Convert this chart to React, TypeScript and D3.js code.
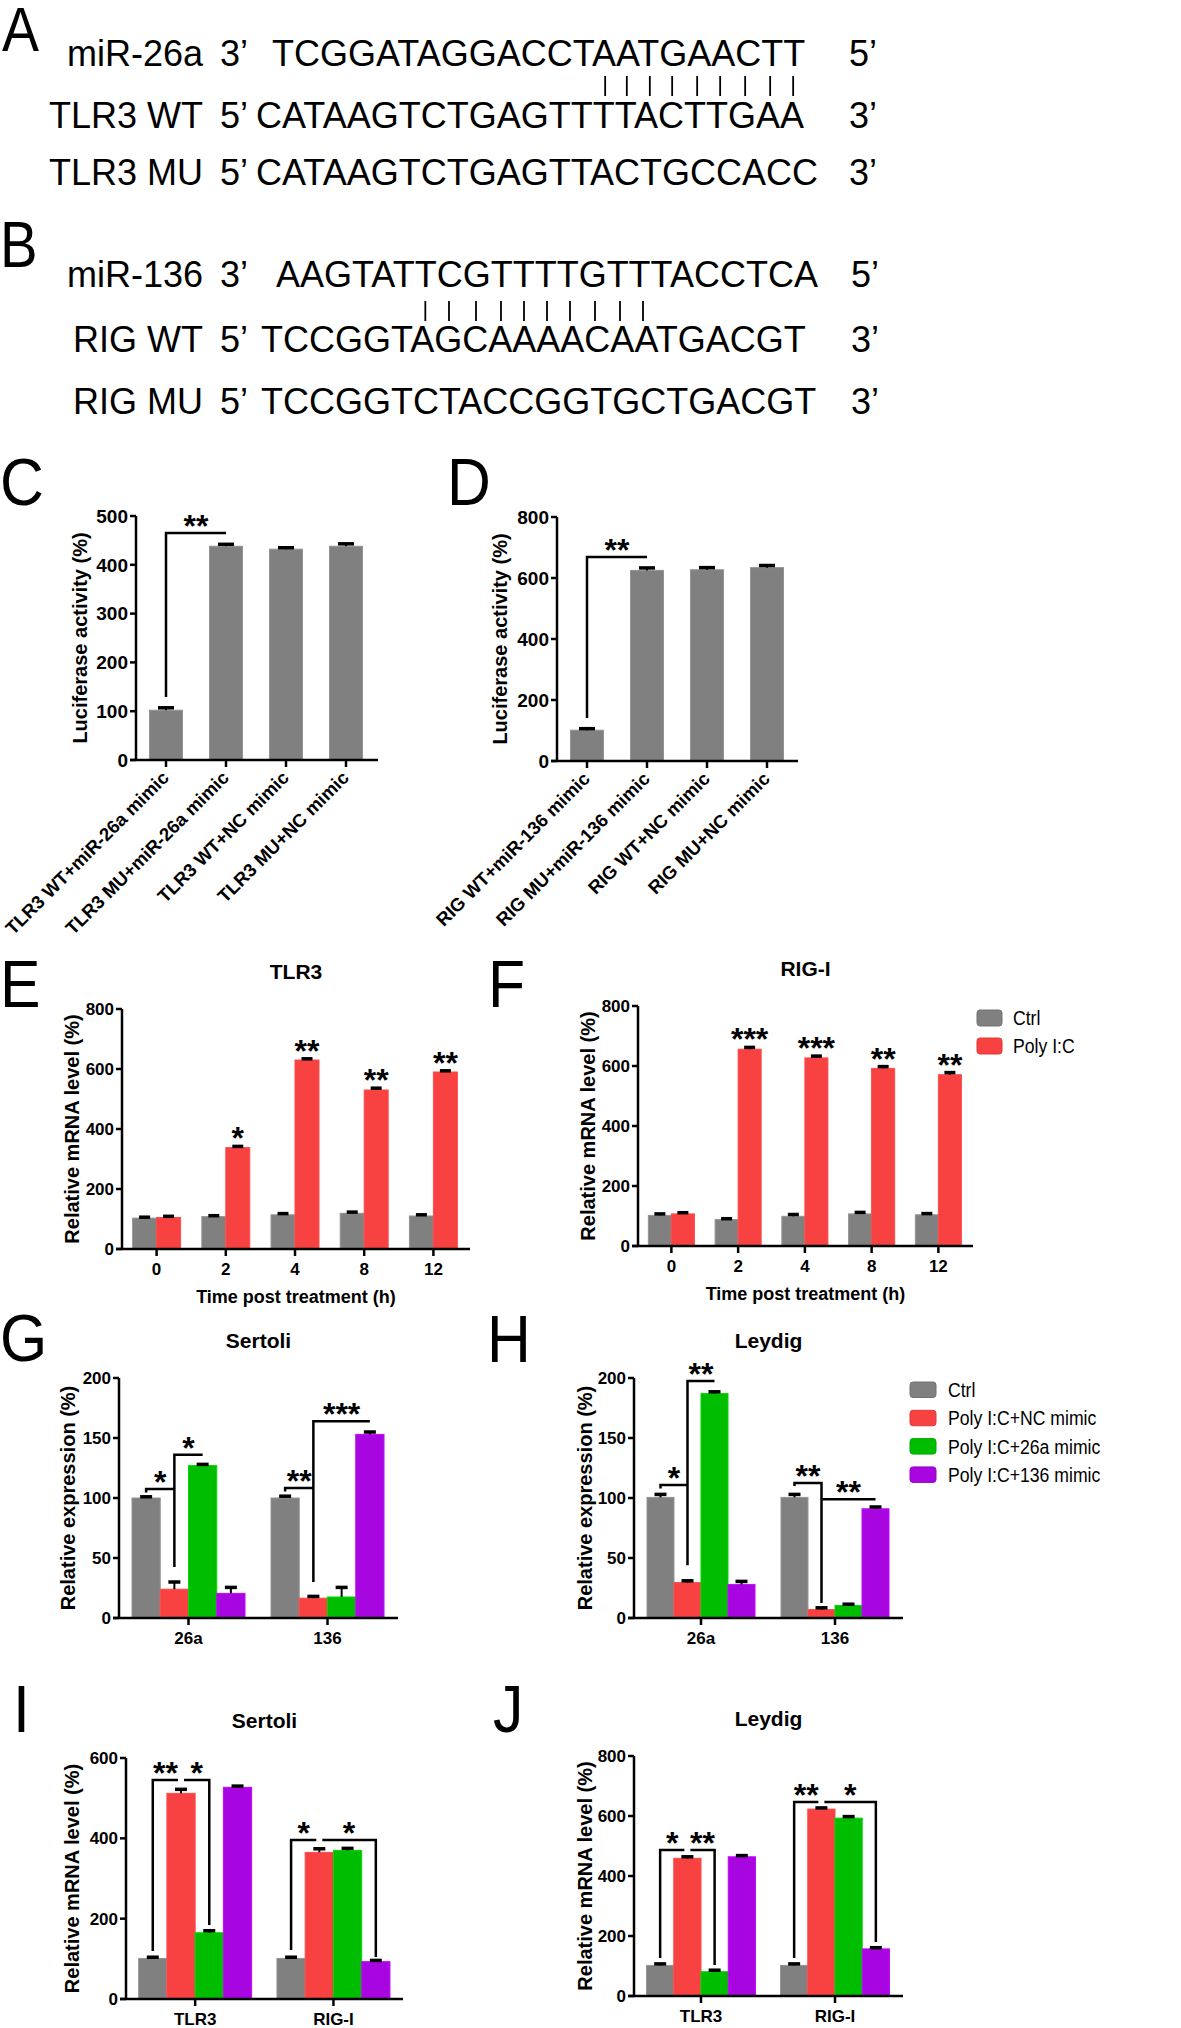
import React from 'react';
import * as d3 from 'd3';

const FONT = "'Liberation Sans', Arial, Helvetica, sans-serif";
const GRAY = '#808080';
const RED = '#f84141';
const GREEN = '#00bd00';
const PURPLE = '#a806e0';

// ---- A / B: sequence alignments
const rowsA = [
  { name: 'miR-26a', p1: '3’', seq: 'TCGGATAGGACCTAATGAACTT', p2: '5’' },
  { name: 'TLR3 WT', p1: '5’', seq: 'CATAAGTCTGAGTTTTACTTGAA', p2: '3’' },
  { name: 'TLR3 MU', p1: '5’', seq: 'CATAAGTCTGAGTTACTGCCACC', p2: '3’' },
];
const pairA = { wt: 14, mir: 13, count: 9 };

const rowsB = [
  { name: 'miR-136', p1: '3’', seq: 'AAGTATTCGTTTTGTTTACCTCA', p2: '5’' },
  { name: 'RIG WT', p1: '5’', seq: 'TCCGGTAGCAAAACAATGACGT', p2: '3’' },
  { name: 'RIG MU', p1: '5’', seq: 'TCCGGTCTACCGGTGCTGACGT', p2: '3’' },
];
const pairB = { wt: 6, mir: 6, count: 10 };

// ---- C / D: luciferase
const catsC = ['TLR3 WT+miR-26a mimic', 'TLR3 MU+miR-26a mimic', 'TLR3 WT+NC mimic', 'TLR3 MU+NC mimic'];
const valsC = [102, 438, 432, 438];
const errC = [5, 4, 3, 5];
const catsD = ['RIG WT+miR-136 mimic', 'RIG MU+miR-136 mimic', 'RIG WT+NC mimic', 'RIG MU+NC mimic'];
const valsD = [101, 625, 627, 634];
const errD = [5, 8, 7, 7];

// ---- E / F: time course
const timeCats = ['0', '2', '4', '8', '12'];
const ctrlE = [103, 108, 114, 119, 110];
const polyE = [105, 338, 630, 530, 590];
const ctrlEErr = [3, 3, 4, 4, 4];
const polyEErr = [4, 4, 4, 6, 4];
const starsE = ['', '*', '**', '**', '**'];
const ctrlF = [102, 88, 99, 107, 104];
const polyF = [107, 656, 627, 592, 571];
const ctrlFErr = [5, 3, 6, 5, 4];
const polyFErr = [4, 6, 6, 6, 7];
const starsF = ['', '***', '***', '**', '**'];
const legendEF = ['Ctrl', 'Poly I:C'];

// ---- G / H: miRNA expression
const mirCats = ['26a', '136'];
const ctrlG = [100, 100];
const ncG = [24, 16.5];
const m26G = [127, 17.5];
const m136G = [20.5, 153];
const errG = [[1, 1.5], [6, 1.5], [1, 8], [5, 2]];
const ctrlH = [100.5, 100.5];
const ncH = [29.5, 7];
const m26H = [187, 10.5];
const m136H = [28, 91];
const errH = [[2.5, 2.5], [1.5, 1.5], [1.5, 1], [2.5, 1.5]];
const legendGH = ['Ctrl', 'Poly I:C+NC mimic', 'Poly I:C+26a mimic', 'Poly I:C+136 mimic'];

// ---- I / J: target mRNA
const geneCats = ['TLR3', 'RIG-I'];
const ctrlI = [101, 101];
const ncI = [512, 365];
const m26I = [165, 370];
const m136I = [527, 93];
const errI = [[3, 3], [10, 9], [5, 5], [3, 3]];
const ctrlJ = [102, 102];
const ncJ = [459, 623];
const m26J = [81, 593];
const m136J = [464, 157];
const errJ = [[5, 5], [5, 4], [5, 5], [4, 4]];

// significance brackets: from/to = [category, series]
const annotC = [{ from: [0, 0], to: [1, 0], y: 465, legL: 129, label: '**' }];
const annotD = [{ from: [0, 0], to: [1, 0], y: 669, legL: 141, label: '**' }];
const annotG = [
  { from: [0, 0], to: [0, 1], y: 107.5, legL: 104.5, label: '*' },
  { from: [0, 1], to: [0, 2], y: 136, legL: 42.5, label: '*' },
  { from: [1, 0], to: [1, 1], y: 108.3, legL: 105.5, label: '**' },
  { from: [1, 1], to: [1, 3], y: 164, legL: 30, label: '***' },
];
const annotH = [
  { from: [0, 0], to: [0, 1], y: 110.8, legL: 108, label: '*' },
  { from: [0, 1], to: [0, 2], y: 197.5, legL: 44, label: '**' },
  { from: [1, 0], to: [1, 1], y: 112.5, legL: 110, legR: 12.5, label: '**' },
  { from: [1, 1], to: [1, 3], y: 99, label: '**' },
];
const annotI = [
  { from: [0, 0], to: [0, 1], y: 545, legL: 119.5, label: '**' },
  { from: [0, 1], to: [0, 2], y: 545, legR: 184, label: '*' },
  { from: [1, 0], to: [1, 1], y: 396, legL: 122, label: '*' },
  { from: [1, 1], to: [1, 3], y: 396, legR: 104.5, label: '*' },
];
const annotJ = [
  { from: [0, 0], to: [0, 1], y: 487, legL: 127, label: '*' },
  { from: [0, 1], to: [0, 2], y: 487, legR: 103, label: '**' },
  { from: [1, 0], to: [1, 1], y: 647, legL: 127, label: '**' },
  { from: [1, 1], to: [1, 3], y: 647, legR: 180, label: '*' },
];

const panelLetters = [
  { t: 'A', x: 2, y: 51, fs: 63, sx: 0.88 },
  { t: 'B', x: 0, y: 267, fs: 64, sx: 0.88 },
  { t: 'C', x: 0, y: 505, fs: 66, sx: 0.92 },
  { t: 'D', x: 447, y: 505, fs: 66, sx: 0.92 },
  { t: 'E', x: 0, y: 1007, fs: 66, sx: 0.92 },
  { t: 'F', x: 488, y: 1007, fs: 66, sx: 0.92 },
  { t: 'G', x: 0, y: 1361, fs: 66, sx: 0.92 },
  { t: 'H', x: 487, y: 1362, fs: 66, sx: 0.92 },
  { t: 'I', x: 13, y: 1732, fs: 66, sx: 0.92 },
  { t: 'J', x: 493, y: 1732, fs: 66, sx: 0.92 },
];

const SEQ_FS = 36;
const STAR_FS = 32;
const STAR_DY = 4; // baseline offset below the line the stars sit on
let measureCtx: CanvasRenderingContext2D | null = null;
function textWidth(s: string) {
  if (!measureCtx) {
    measureCtx = document.createElement('canvas').getContext('2d');
    if (measureCtx) measureCtx.font = `${SEQ_FS}px "Liberation Sans", Arial, sans-serif`;
  }
  return measureCtx ? measureCtx.measureText(s).width : s.length * SEQ_FS * 0.68;
}
const charCenter = (x0: number, seq: string, i: number) => x0 + textWidth(seq.slice(0, i)) + textWidth(seq[i]) / 2;

function SeqBlock({ rows, lay, pair }: any) {
  const idx = d3.range(pair.count);
  return (
    <g fontSize={SEQ_FS}>
      {rows.map((r: any, i: number) => (
        <g key={i}>
          <text x={lay.nameRight} y={lay.base[i]} textAnchor="end">{r.name}</text>
          <text x={lay.p1X} y={lay.base[i]}>{r.p1}</text>
          <text x={lay.seqX[i]} y={lay.base[i]}>{r.seq}</text>
          <text x={lay.p2X} y={lay.base[i]}>{r.p2}</text>
        </g>
      ))}
      {idx.map((k) => {
        const xx = (charCenter(lay.seqX[1], rows[1].seq, pair.wt + k) + charCenter(lay.seqX[0], rows[0].seq, pair.mir + k)) / 2;
        return <line key={k} x1={xx} x2={xx} y1={lay.bars[0]} y2={lay.bars[1]} stroke="#000" strokeWidth={1.8} />;
      })}
    </g>
  );
}

function Panel({ c }: { c: any }) {
  const y = d3.scaleLinear().domain([0, c.yMax]).range([c.y0, c.yTop]);
  const x = d3.scaleBand<string>().domain(c.cats).range([c.x0, c.rEnd])
    .paddingInner(c.padInner).paddingOuter(c.padInner / 2);
  const nS = c.series.length;
  const sub = d3.scaleBand<number>().domain(d3.range(nS)).range([0, x.bandwidth()]);
  const bw = sub.bandwidth();
  const cx = (ci: number, si: number) => (x(c.cats[ci]) ?? 0) + (sub(si) ?? 0) + bw / 2;
  const ticks = d3.range(0, c.yMax + c.yStep / 2, c.yStep);
  const midX = (c.x0 + c.xEnd) / 2;
  const gap = c.gap || 0;
  return (
    <g>
      {c.title && (
        <text x={midX} y={c.yTop - 30} textAnchor="middle" fontSize={21} fontWeight="bold">{c.title}</text>
      )}
      {c.series.map((vals: number[], si: number) =>
        vals.map((v, ci) => (
          <rect key={`b${si}-${ci}`} x={cx(ci, si) - bw / 2} y={y(v)} width={bw} height={c.y0 - y(v)}
            fill={c.colors[si]} stroke={d3.color(c.colors[si])!.brighter(0.4).toString()} strokeWidth={1} />
        ))
      )}
      {c.series.map((vals: number[], si: number) =>
        vals.map((v, ci) => {
          const e = c.errs[si][ci];
          const xx = cx(ci, si);
          return (
            <g key={`e${si}-${ci}`}>
              <line x1={xx} x2={xx} y1={y(v)} y2={y(v + e)} stroke="#000" strokeWidth={2} />
              <line x1={xx - c.capW / 2} x2={xx + c.capW / 2} y1={y(v + e)} y2={y(v + e)} stroke="#000" strokeWidth={3.5} />
            </g>
          );
        })
      )}
      <line x1={c.x0} x2={c.x0} y1={c.yTop} y2={c.y0} stroke="#000" strokeWidth={2.5} />
      <line x1={c.x0 - 6} x2={c.xEnd} y1={c.y0} y2={c.y0} stroke="#000" strokeWidth={2.5} />
      {ticks.map((t: number) => (
        <g key={`t${t}`}>
          <line x1={c.x0 - 6} x2={c.x0} y1={y(t)} y2={y(t)} stroke="#000" strokeWidth={2.5} />
          <text x={c.x0 - 8} y={y(t)} dy="0.36em" textAnchor="end" fontSize={c.tickFont} fontWeight="bold">{t}</text>
        </g>
      ))}
      {c.rotate
        ? c.cats.map((cat: string, ci: number) => {
            const xx = cx(ci, 0);
            return (
              <g key={`x${ci}`}>
                <line x1={xx} x2={xx} y1={c.y0} y2={c.y0 + 7} stroke="#000" strokeWidth={2.5} />
                <text transform={`translate(${xx + 4},${c.y0 + 19}) rotate(-45)`} textAnchor="end"
                  fontSize={18.5} fontWeight="bold">{cat}</text>
              </g>
            );
          })
        : c.cats.map((cat: string) => {
            const xx = (x(cat) ?? 0) + x.bandwidth() / 2;
            return (
              <g key={`x${cat}`}>
                <line x1={xx} x2={xx} y1={c.y0} y2={c.y0 + 7} stroke="#000" strokeWidth={2.5} />
                <text x={xx} y={c.y0 + 26} textAnchor="middle" fontSize={17} fontWeight="bold">{cat}</text>
              </g>
            );
          })}
      <text transform={`translate(${c.yTitleX},${(c.yTop + c.y0) / 2}) rotate(-90)`} textAnchor="middle"
        fontSize={20} fontWeight="bold">{c.yTitle}</text>
      {c.xTitle && (
        <text x={midX} y={c.y0 + 54} textAnchor="middle" fontSize={18} fontWeight="bold">{c.xTitle}</text>
      )}
      {c.topStars &&
        c.topStars.labels.map((s: string, ci: number) => {
          const si = c.topStars.series;
          const v = c.series[si][ci] + c.errs[si][ci];
          return s ? (
            <text key={`s${ci}`} x={cx(ci, si)} y={y(v) + STAR_DY - 1} textAnchor="middle" fontSize={STAR_FS} fontWeight="bold">{s}</text>
          ) : null;
        })}
      {c.annots.map((a: any, i: number) => {
        const xl = cx(a.from[0], a.from[1]) + (a.legL == null ? gap : 0);
        const xr = cx(a.to[0], a.to[1]) - (a.legR == null ? gap : 0);
        const yy = y(a.y);
        let d = a.legL != null ? `M${xl},${y(a.legL)}V${yy}` : `M${xl},${yy}`;
        d += `H${xr}`;
        if (a.legR != null) d += `V${y(a.legR)}`;
        return (
          <g key={`a${i}`}>
            <path d={d} fill="none" stroke="#000" strokeWidth={2.5} />
            <text x={(xl + xr) / 2} y={yy + STAR_DY} textAnchor="middle" fontSize={STAR_FS} fontWeight="bold">{a.label}</text>
          </g>
        );
      })}
    </g>
  );
}

function Legend({ items, colors, x, y, step, bw, bh, tx }: any) {
  return (
    <g>
      {items.map((t: string, i: number) => (
        <g key={t}>
          <rect x={x} y={y + i * step} width={bw} height={bh} rx={3} fill={colors[i]}
            stroke={d3.color(colors[i])!.darker(0.3).toString()} strokeWidth={1} />
          <text transform={`translate(${tx},${y + i * step + 15}) scale(0.84,1)`} fontSize={21}>{t}</text>
        </g>
      ))}
    </g>
  );
}

const cfgC = {
  x0: 136, rEnd: 376, xEnd: 378, y0: 760, yTop: 516, yMax: 500, yStep: 100, tickFont: 19,
  cats: catsC, series: [valsC], errs: [errC], colors: [GRAY], padInner: 0.45, capW: 16,
  yTitle: 'Luciferase activity (%)', yTitleX: 87, rotate: true, annots: annotC,
};
const cfgD = {
  x0: 557, rEnd: 797, xEnd: 798, y0: 761, yTop: 517, yMax: 800, yStep: 200, tickFont: 19,
  cats: catsD, series: [valsD], errs: [errD], colors: [GRAY], padInner: 0.45, capW: 16,
  yTitle: 'Luciferase activity (%)', yTitleX: 507, rotate: true, annots: annotD,
};
const cfgE = {
  x0: 122, rEnd: 468, xEnd: 470, y0: 1249, yTop: 1009, yMax: 800, yStep: 200, tickFont: 17,
  cats: timeCats, series: [ctrlE, polyE], errs: [ctrlEErr, polyEErr], colors: [GRAY, RED], padInner: 0.307, capW: 11,
  title: 'TLR3', yTitle: 'Relative mRNA level (%)', yTitleX: 79, xTitle: 'Time post treatment (h)',
  topStars: { series: 1, labels: starsE }, annots: [],
};
const cfgF = {
  x0: 638, rEnd: 971.75, xEnd: 973, y0: 1246, yTop: 1006, yMax: 800, yStep: 200, tickFont: 17,
  cats: timeCats, series: [ctrlF, polyF], errs: [ctrlFErr, polyFErr], colors: [GRAY, RED], padInner: 0.31, capW: 11,
  title: 'RIG-I', yTitle: 'Relative mRNA level (%)', yTitleX: 595, xTitle: 'Time post treatment (h)',
  topStars: { series: 1, labels: starsF }, annots: [],
};
const COLORS4 = [GRAY, RED, GREEN, PURPLE];
const cfgG = {
  x0: 119, rEnd: 397, xEnd: 398, y0: 1618, yTop: 1378, yMax: 200, yStep: 50, tickFont: 17,
  cats: mirCats, series: [ctrlG, ncG, m26G, m136G], errs: errG, colors: COLORS4, padInner: 0.187, capW: 12,
  title: 'Sertoli', yTitle: 'Relative expression (%)', yTitleX: 75, annots: annotG,
};
const cfgH = {
  x0: 634, rEnd: 902, xEnd: 903, y0: 1618, yTop: 1378, yMax: 200, yStep: 50, tickFont: 17,
  cats: mirCats, series: [ctrlH, ncH, m26H, m136H], errs: errH, colors: COLORS4, padInner: 0.194, capW: 12,
  title: 'Leydig', yTitle: 'Relative expression (%)', yTitleX: 592, annots: annotH,
};
const cfgI = {
  x0: 126, rEnd: 402.6, xEnd: 403, y0: 1999, yTop: 1758, yMax: 600, yStep: 200, tickFont: 17,
  cats: geneCats, series: [ctrlI, ncI, m26I, m136I], errs: errI, colors: COLORS4, padInner: 0.183, capW: 12,
  title: 'Sertoli', yTitle: 'Relative mRNA level (%)', yTitleX: 79, annots: annotI, gap: 3,
};
const cfgJ = {
  x0: 634, rEnd: 902, xEnd: 903, y0: 1996, yTop: 1756, yMax: 800, yStep: 200, tickFont: 17,
  cats: geneCats, series: [ctrlJ, ncJ, m26J, m136J], errs: errJ, colors: COLORS4, padInner: 0.187, capW: 12,
  title: 'Leydig', yTitle: 'Relative mRNA level (%)', yTitleX: 592, annots: annotJ, gap: 3,
};

const layA = { nameRight: 203, p1X: 220, seqX: [272, 256, 256], p2X: 849, base: [66, 128, 185], bars: [76, 96] };
const layB = { nameRight: 203, p1X: 220, seqX: [276, 261, 261], p2X: 851, base: [287, 352, 414], bars: [301, 321] };

export default function App() {
  return (
    <svg width={1181} height={2028} style={{ position: 'absolute', left: 0, top: 0 }} fontFamily={FONT}>
      <rect width={1181} height={2028} fill="#fff" />
      {panelLetters.map((l) => (
        <text key={l.t} transform={`translate(${l.x},${l.y}) scale(${l.sx},1)`} fontSize={l.fs}>{l.t}</text>
      ))}
      <SeqBlock rows={rowsA} lay={layA} pair={pairA} />
      <SeqBlock rows={rowsB} lay={layB} pair={pairB} />
      <Panel c={cfgC} />
      <Panel c={cfgD} />
      <Panel c={cfgE} />
      <Panel c={cfgF} />
      <Legend items={legendEF} colors={[GRAY, RED]} x={977} y={1010} step={28} bw={25} bh={16} tx={1013} />
      <Panel c={cfgG} />
      <Panel c={cfgH} />
      <Legend items={legendGH} colors={COLORS4} x={910} y={1382} step={28.3} bw={26} bh={15.5} tx={948} />
      <Panel c={cfgI} />
      <Panel c={cfgJ} />
    </svg>
  );
}
